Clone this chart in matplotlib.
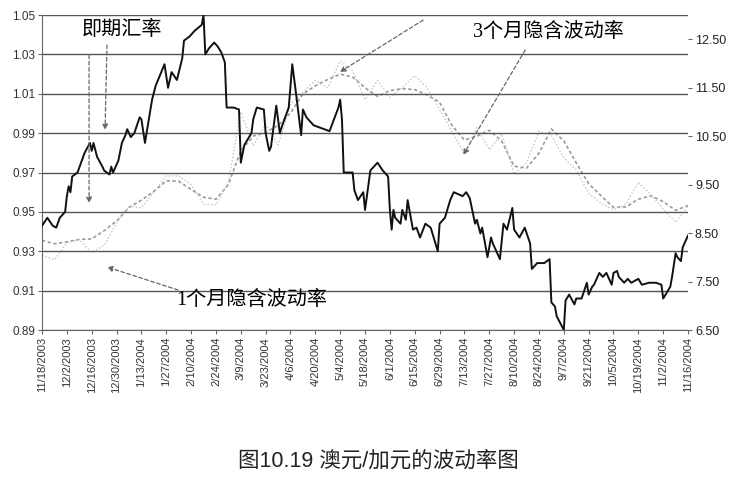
import pandas as pd
import matplotlib
matplotlib.use("Agg")
import matplotlib.pyplot as plt

plt.rcParams['font.family'] = ['Liberation Sans', 'Noto Sans CJK SC', 'DejaVu Sans']

# 即期汇率 AUD/CAD
spot_dates = [
    "2003-11-18", "2003-11-21", "2003-11-24", "2003-11-26", "2003-11-28", "2003-12-01",
    "2003-12-02", "2003-12-03", "2003-12-04", "2003-12-05", "2003-12-08", "2003-12-10",
    "2003-12-12", "2003-12-15", "2003-12-16", "2003-12-17", "2003-12-19", "2003-12-22",
    "2003-12-23", "2003-12-26", "2003-12-27", "2003-12-28", "2003-12-31", "2004-01-02",
    "2004-01-04", "2004-01-05", "2004-01-07", "2004-01-09", "2004-01-12", "2004-01-13",
    "2004-01-15", "2004-01-19", "2004-01-21", "2004-01-26", "2004-01-28", "2004-01-30",
    "2004-02-02", "2004-02-05", "2004-02-06", "2004-02-09", "2004-02-12", "2004-02-16",
    "2004-02-17", "2004-02-18", "2004-02-20", "2004-02-23", "2004-02-25", "2004-02-27",
    "2004-02-29", "2004-03-01", "2004-03-05", "2004-03-08", "2004-03-09", "2004-03-11",
    "2004-03-15", "2004-03-16", "2004-03-18", "2004-03-22", "2004-03-23", "2004-03-25",
    "2004-03-26", "2004-03-29", "2004-03-31", "2004-04-01", "2004-04-05", "2004-04-07",
    "2004-04-09", "2004-04-12", "2004-04-13", "2004-04-15", "2004-04-19", "2004-04-22",
    "2004-04-28", "2004-05-03", "2004-05-04", "2004-05-05", "2004-05-06", "2004-05-11",
    "2004-05-12", "2004-05-14", "2004-05-17", "2004-05-18", "2004-05-21", "2004-05-25",
    "2004-05-28", "2004-05-31", "2004-06-01", "2004-06-02", "2004-06-03", "2004-06-04",
    "2004-06-07", "2004-06-08", "2004-06-10", "2004-06-11", "2004-06-14", "2004-06-16",
    "2004-06-18", "2004-06-21", "2004-06-24", "2004-06-28", "2004-06-29", "2004-07-02",
    "2004-07-05", "2004-07-07", "2004-07-12", "2004-07-14", "2004-07-16", "2004-07-19",
    "2004-07-20", "2004-07-22", "2004-07-23", "2004-07-26", "2004-07-28", "2004-07-29",
    "2004-08-02", "2004-08-04", "2004-08-06", "2004-08-09", "2004-08-10", "2004-08-13",
    "2004-08-16", "2004-08-19", "2004-08-20", "2004-08-23", "2004-08-27", "2004-08-30",
    "2004-08-31", "2004-09-02", "2004-09-03", "2004-09-07", "2004-09-08", "2004-09-10",
    "2004-09-13", "2004-09-14", "2004-09-17", "2004-09-20", "2004-09-21", "2004-09-23",
    "2004-09-24", "2004-09-27", "2004-09-29", "2004-10-01", "2004-10-04", "2004-10-05",
    "2004-10-07", "2004-10-08", "2004-10-11", "2004-10-13", "2004-10-15", "2004-10-19",
    "2004-10-21", "2004-10-25", "2004-10-27", "2004-10-29", "2004-11-01", "2004-11-02",
    "2004-11-04", "2004-11-06", "2004-11-07", "2004-11-09", "2004-11-10", "2004-11-12",
    "2004-11-13", "2004-11-16",
]
spot_values = [
    0.943, 0.947, 0.943, 0.942, 0.947, 0.950,
    0.958, 0.963, 0.960, 0.968, 0.970, 0.975,
    0.980, 0.985, 0.981, 0.985, 0.978, 0.973,
    0.971, 0.969, 0.973, 0.970, 0.976, 0.985,
    0.989, 0.992, 0.988, 0.990, 0.998, 0.997,
    0.985, 1.007, 1.014, 1.025, 1.013, 1.021,
    1.017, 1.028, 1.037, 1.039, 1.042, 1.045,
    1.050, 1.030, 1.033, 1.036, 1.034, 1.031,
    1.026, 1.003, 1.003, 1.002, 0.975, 0.984,
    0.990, 0.997, 1.003, 1.002, 0.990, 0.981,
    0.983, 1.004, 0.990, 0.993, 1.003, 1.025,
    1.011, 0.989, 1.002, 0.998, 0.994, 0.993,
    0.991, 1.003, 1.007, 0.997, 0.970, 0.970,
    0.961, 0.956, 0.960, 0.951, 0.971, 0.975,
    0.971, 0.968, 0.951, 0.941, 0.951, 0.947,
    0.944, 0.951, 0.946, 0.956, 0.941, 0.942,
    0.937, 0.944, 0.942, 0.930, 0.944, 0.947,
    0.956, 0.960, 0.958, 0.960, 0.957, 0.944,
    0.946, 0.939, 0.942, 0.927, 0.937, 0.934,
    0.926, 0.944, 0.941, 0.952, 0.941, 0.937,
    0.942, 0.934, 0.921, 0.924, 0.924, 0.926,
    0.904, 0.902, 0.897, 0.890, 0.905, 0.908,
    0.903, 0.906, 0.906, 0.914, 0.908, 0.912,
    0.913, 0.919, 0.917, 0.919, 0.913, 0.919,
    0.920, 0.917, 0.914, 0.916, 0.914, 0.916,
    0.913, 0.914, 0.914, 0.914, 0.913, 0.906,
    0.909, 0.912, 0.917, 0.929, 0.927, 0.925,
    0.932, 0.938,
]

# 隐含波动率 (weekly readings)
vol_dates = pd.date_range("2003-11-18", "2004-11-16", freq="7D")
vol_1m = [
    8.04, 7.95, 8.30, 8.36, 8.10, 8.25, 8.70, 9.05, 9.02, 9.35,
    9.68, 9.68, 9.50, 9.10, 9.08, 9.55, 11.00, 10.30, 10.75, 10.32,
    11.15, 11.40, 11.65, 11.50, 12.05, 11.85, 11.25, 11.65, 11.30, 11.50,
    11.75, 11.50, 11.05, 10.60, 10.12, 10.68, 10.22, 10.55, 9.72, 9.95,
    10.60, 10.52, 10.05, 9.80, 9.32, 9.12, 8.98, 9.10, 9.55, 9.30,
    9.00, 8.72, 9.05,
]
vol_3m = [
    8.35, 8.28, 8.32, 8.37, 8.38, 8.55, 8.75, 9.03, 9.18, 9.36,
    9.58, 9.57, 9.40, 9.24, 9.20, 9.50, 10.20, 10.50, 10.58, 10.72,
    10.98, 11.37, 11.54, 11.67, 11.78, 11.72, 11.50, 11.32, 11.44, 11.48,
    11.46, 11.35, 11.20, 10.72, 10.42, 10.50, 10.62, 10.40, 9.88, 9.84,
    10.15, 10.65, 10.40, 9.95, 9.52, 9.27, 9.03, 9.04, 9.20, 9.27,
    9.15, 8.97, 9.07,
]

left_ticks = [0.89, 0.91, 0.93, 0.95, 0.97, 0.99, 1.01, 1.03, 1.05]
right_ticks = [6.5, 7.5, 8.5, 9.5, 10.5, 11.5, 12.5]
x_ticks = pd.date_range("2003-11-18", "2004-11-16", freq="14D")

fig = plt.figure(figsize=(7.56, 4.78), dpi=100)
ax = fig.add_axes([0.0556, 0.3096, 0.8545, 0.659])
ax2 = ax.twinx()

ax.set_ylim(0.89, 1.05)
ax.set_yticks(left_ticks)
ax.set_yticklabels([f"{v:.2f}" for v in left_ticks], fontsize=8.5, color="#333")
for v in left_ticks:
    ax.axhline(v, color="#555", lw=1.0, zorder=1)

ax2.set_ylim(6.5, 13.0)
ax2.set_yticks(right_ticks)
ax2.set_yticklabels([f"{v:.2f}" for v in right_ticks], fontsize=9, color="#222")

ax2.plot(vol_dates, vol_3m, color="#9a9a9a", lw=1.2, ls=(0, (2, 1.5)), zorder=2)
ax2.plot(vol_dates, vol_1m, color="#c4c4c4", lw=1.0, ls=(0, (1, 1.5)), zorder=2)
ax.plot(pd.to_datetime(spot_dates), spot_values, color="#111", lw=1.4, zorder=5)
ax.set_zorder(ax2.get_zorder() + 1)
ax.patch.set_visible(False)

ax.set_xlim(x_ticks[0], x_ticks[-1])
ax.set_xticks(x_ticks)
ax.set_xticklabels([f"{d.month}/{d.day}/{d.year}" for d in x_ticks],
                   rotation=90, fontsize=8, color="#333")

for a in (ax, ax2):
    for s in ("top", "right"):
        a.spines[s].set_visible(False)
    a.spines["left"].set_color("#666")
    a.spines["bottom"].set_color("#666")
    a.tick_params(length=3, color="#666", pad=2)
ax2.spines["left"].set_visible(False)
ax2.spines["bottom"].set_visible(False)

# 标注
note_font = ['Liberation Serif', 'Noto Sans CJK SC']
ax.text(0.062, 0.952, "即期汇率", transform=ax.transAxes, fontsize=14.5,
        family=note_font, va="center", ha="left", zorder=10)
ax.text(0.667, 0.946, "3个月隐含波动率", transform=ax.transAxes, fontsize=14.5,
        family=note_font, va="center", ha="left", zorder=10)
ax.text(0.2074, 0.095, "1个月隐含波动率", transform=ax.transAxes, fontsize=14.5,
        family=note_font, va="center", ha="left", zorder=10)

arrows = [
    ((0.1006, 0.905), (0.0975, 0.635)),
    ((0.0728, 0.873), (0.0728, 0.403)),
    ((0.590, 0.984), (0.461, 0.819)),
    ((0.748, 0.889), (0.652, 0.556)),
    ((0.2105, 0.127), (0.1006, 0.200)),
]
for tail, head in arrows:
    ax.annotate("", xy=head, xytext=tail, xycoords="axes fraction",
                textcoords="axes fraction", zorder=10,
                arrowprops=dict(arrowstyle="-|>", color="#666", lw=0.9,
                                ls=(0, (3, 2)), mutation_scale=8,
                                shrinkA=0, shrinkB=0))

fig.text(0.5, 0.036, "图10.19 澳元/加元的波动率图", ha="center", va="center",
         fontsize=15.5, color="#222")

fig.savefig("out.png", dpi=100)
